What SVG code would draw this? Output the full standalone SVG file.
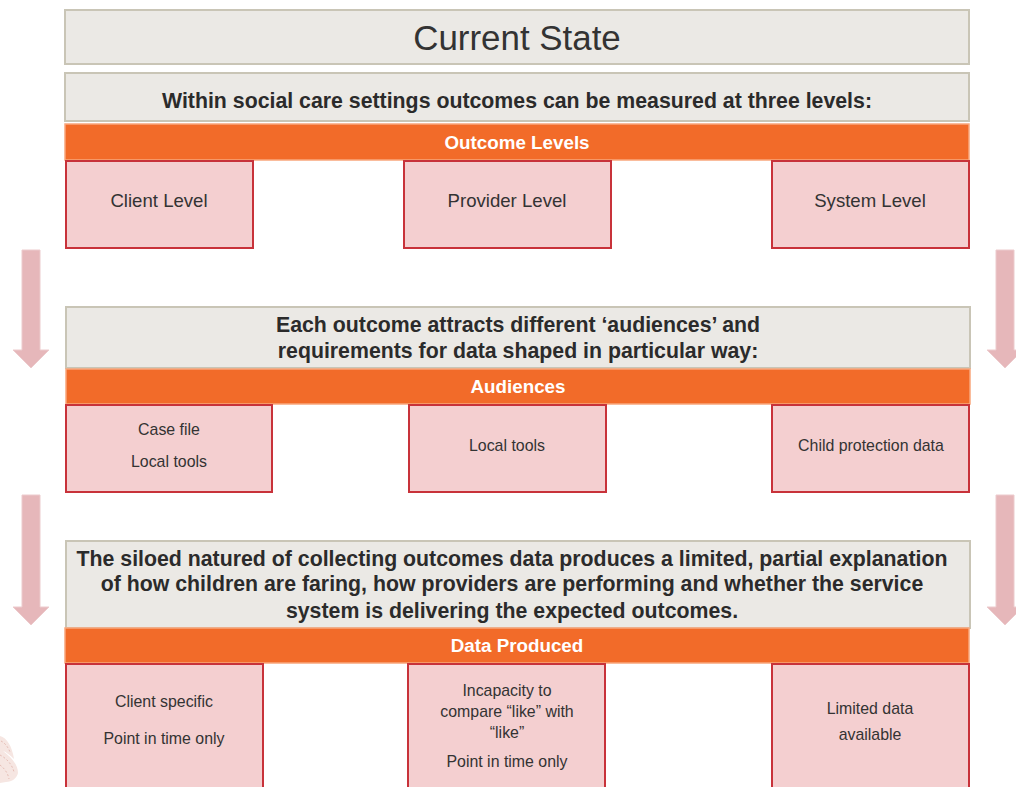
<svg xmlns="http://www.w3.org/2000/svg" width="1016" height="787" viewBox="0 0 1016 787">
<style>
text{font-family:"Liberation Sans",Arial,sans-serif;text-anchor:middle;fill:#333}
.g{fill:#ebe9e5;stroke:#c9c5b6;stroke-width:2}
.o{fill:#f26b29;stroke:#f9a77c;stroke-width:1.5}
.p{fill:#f4cfd0;stroke:#c8323a;stroke-width:2}
.h{font-size:21.3px;font-weight:bold;fill:#2b2b2b}
.w{font-size:18.8px;font-weight:bold;fill:#fff}
.l{font-size:18.6px}
.s{font-size:15.9px}
.a{fill:#e6b7ba;stroke:#eccbcd;stroke-width:1}
.d{fill:none;stroke:#e5bdb5;stroke-width:1;stroke-dasharray:2 2}
</style>
<g id="connectors">
<path class="a" d="M22 250H40V350H49L31 368L13 350H22Z"/>
<path class="a" d="M996 250H1014V350H1023L1005 368L987 350H996Z"/>
<path class="a" d="M22 495H40V607H49L31 625L13 607H22Z"/>
<path class="a" d="M996 495H1014V607H1023L1005 625L987 607H996Z"/>
</g>
<g id="title"><rect class="g" x="65" y="10" width="904" height="54"/><text x="517" y="50" font-size="34.9px">Current State</text></g>
<g id="intro1"><rect class="g" x="65" y="73" width="904" height="48"/><text class="h" x="517" y="108">Within social care settings outcomes can be measured at three levels:</text></g>
<g id="band1"><rect class="o" x="65" y="124" width="904" height="36"/><text class="w" x="517" y="149">Outcome Levels</text></g>
<g id="client-level"><rect class="p" x="66" y="161" width="187" height="87"/><text class="l" x="159" y="207">Client Level</text></g>
<g id="provider-level"><rect class="p" x="404" y="161" width="207" height="87"/><text class="l" x="507" y="207">Provider Level</text></g>
<g id="system-level"><rect class="p" x="772" y="161" width="197" height="87"/><text class="l" x="870" y="207">System Level</text></g>
<g id="intro2"><rect class="g" x="66" y="307" width="904" height="61"/><text class="h" x="518" y="332">Each outcome attracts different ‘audiences’ and</text><text class="h" x="518" y="358">requirements for data shaped in particular way:</text></g>
<g id="band2"><rect class="o" x="66" y="369" width="904" height="35"/><text class="w" x="518" y="393">Audiences</text></g>
<g id="case-file"><rect class="p" x="66" y="405" width="206" height="87"/><text class="s" x="169" y="435">Case file</text><text class="s" x="169" y="467">Local tools</text></g>
<g id="local-tools"><rect class="p" x="409" y="405" width="197" height="87"/><text class="s" x="507" y="451">Local tools</text></g>
<g id="child-protection"><rect class="p" x="772" y="405" width="197" height="87"/><text class="s" x="871" y="451">Child protection data</text></g>
<g id="intro3"><rect class="g" x="66" y="541" width="904" height="87"/><text class="h" x="512" y="566">The siloed natured of collecting outcomes data produces a limited, partial explanation</text><text class="h" x="512" y="591">of how children are faring, how providers are performing and whether the service</text><text class="h" x="512" y="618">system is delivering the expected outcomes.</text></g>
<g id="band3"><rect class="o" x="65" y="628" width="904" height="35"/><text class="w" x="517" y="652">Data Produced</text></g>
<g id="client-specific"><rect class="p" x="66" y="664" width="197" height="130"/><text class="s" x="164" y="707">Client specific</text><text class="s" x="164" y="744">Point in time only</text></g>
<g id="incapacity"><rect class="p" x="408" y="664" width="197" height="130"/><text class="s" x="507" y="696">Incapacity to</text><text class="s" x="507" y="717">compare “like” with</text><text class="s" x="507" y="738">“like”</text><text class="s" x="507" y="767">Point in time only</text></g>
<g id="limited-data"><rect class="p" x="772" y="664" width="197" height="130"/><text class="s" x="870" y="714">Limited data</text><text class="s" x="870" y="740">available</text></g>
<g id="decor"><path d="M0 736C7 738 12 746 14 759C10 755 6 752 3 751C10 756 18 764 18 773C17 778 12 782 6 782L0 783Z" fill="#f6e6e2"/><path class="d" d="M1 741C5 743 8 747 10 752M0 755C6 758 12 764 14 772M0 765C4 768 8 773 9 779"/></g>
</svg>
